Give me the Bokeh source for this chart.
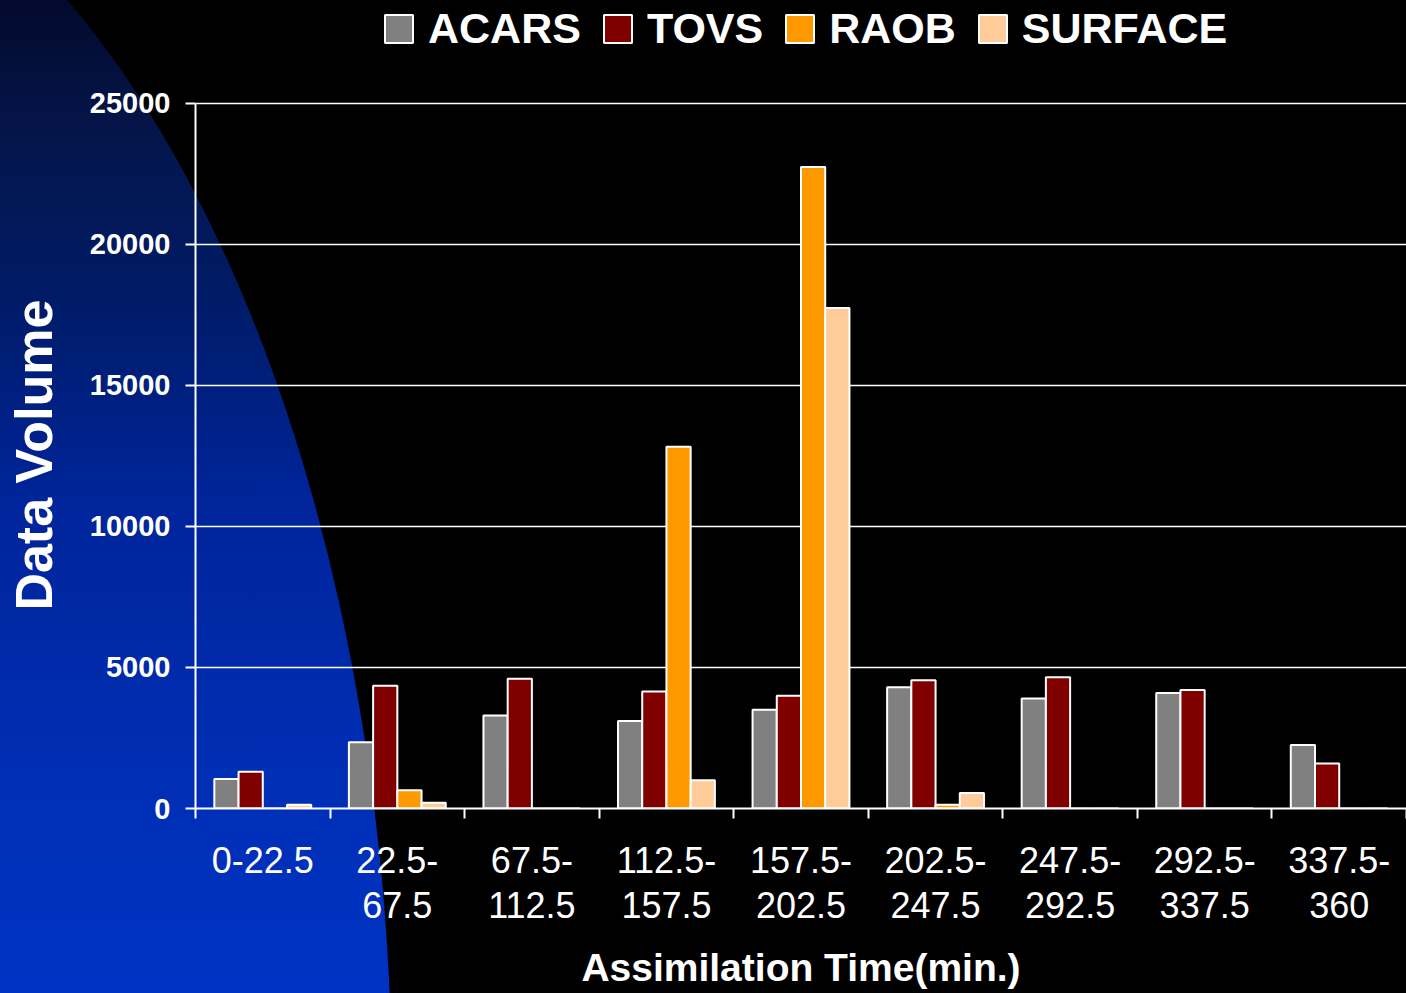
from urllib.parse import quote

from bokeh.plotting import figure
from bokeh.models import (ColumnDataSource, Range1d, FixedTicker, Legend, LegendItem,
                          GlobalInlineStyleSheet)
from bokeh.transform import dodge
from bokeh.embed import file_html
from bokeh.resources import INLINE

# ---------------- data ----------------
categories = ["0-22.5", "22.5-67.5", "67.5-112.5", "112.5-157.5", "157.5-202.5",
              "202.5-247.5", "247.5-292.5", "292.5-337.5", "337.5-360"]
tick_labels = ["0-22.5", "22.5-\n67.5", "67.5-\n112.5", "112.5-\n157.5", "157.5-\n202.5",
               "202.5-\n247.5", "247.5-\n292.5", "292.5-\n337.5", "337.5-\n360"]
series_names = ["ACARS", "TOVS", "RAOB", "SURFACE"]
acars = [1050, 2350, 3300, 3100, 3500, 4300, 3900, 4100, 2250]
tovs = [1300, 4350, 4600, 4150, 4000, 4550, 4650, 4200, 1600]
raob = [0, 650, 0, 12830, 22750, 130, 0, 0, 0]
surface = [130, 200, 0, 1000, 17750, 550, 0, 0, 0]
y_ticks = [0, 5000, 10000, 15000, 20000, 25000]

colors = ["#808080", "#800000", "#FF9900", "#FFCC99"]
offsets = [-0.27, -0.09, 0.09, 0.27]
FONT = "Liberation Sans"

# ---------------- background (slide decoration) ----------------
stops = [(0.0, "#020a2c"), (0.13, "#05154a"), (0.3, "#001b66"), (0.5, "#00249a"),
         (0.8, "#002fb6"), (1.0, "#0033c4")]
stop_svg = "".join(f'<stop offset="{o}" stop-color="{c}"/>' for o, c in stops)
svg = ('<svg xmlns="http://www.w3.org/2000/svg" width="1406" height="993">'
       '<defs><linearGradient id="g" gradientUnits="userSpaceOnUse" x1="0" y1="0" x2="0" y2="993">'
       f'{stop_svg}</linearGradient></defs>'
       '<ellipse cx="-303" cy="1100" rx="695" ry="1300" fill="url(#g)"/></svg>')
css = ('html{background:#000 url("data:image/svg+xml,' + quote(svg) + '") no-repeat 0 0;'
       'background-size:1406px 993px;min-height:100%;}'
       'html,body{margin:0;padding:0;overflow:hidden;}'
       'body{background:transparent;}')

# ---------------- figure ----------------
source = ColumnDataSource(dict(xc=list(range(len(categories))), cat=categories,
                               ACARS=acars, TOVS=tovs, RAOB=raob, SURFACE=surface))

p = figure(frame_width=1211, frame_height=808, output_backend="svg", toolbar_location=None,
           x_range=Range1d(-0.5, len(categories) - 0.5), y_range=Range1d(0, 28652),
           min_border_left=195, min_border_right=0, min_border_top=0, min_border_bottom=185,
           background_fill_color=None, border_fill_color=None, outline_line_color=None)
p.stylesheets = [GlobalInlineStyleSheet(css=css)]

renderers = []
for name, col, off in zip(series_names, colors, offsets):
    r = p.vbar(x=dodge("xc", off, range=p.x_range), top=name, width=0.18, source=source,
               fill_color=col, line_color="white", line_width=2)
    renderers.append(r)

# x axis
xa = p.xaxis[0]
xa.ticker = FixedTicker(ticks=list(range(len(categories))),
                        minor_ticks=[i - 0.5 for i in range(len(categories) + 1)])
xa.major_label_overrides = {i: t for i, t in enumerate(tick_labels)}
xa.axis_line_color = "white"
xa.axis_line_width = 2
xa.major_tick_line_color = None
xa.major_tick_out = 0
xa.major_tick_in = 0
xa.minor_tick_line_color = "white"
xa.minor_tick_line_width = 2
xa.minor_tick_out = 10
xa.minor_tick_in = 0
xa.major_label_text_font = FONT
xa.major_label_text_font_size = "36px"
xa.major_label_text_color = "white"
xa.major_label_text_line_height = 1.1
xa.major_label_standoff = 21
xa.axis_label = "Assimilation Time(min.)"
xa.axis_label_text_font = FONT
xa.axis_label_text_font_style = "bold"
xa.axis_label_text_font_size = "39px"
xa.axis_label_text_color = "white"
xa.axis_label_standoff = 17

# y axis
ya = p.yaxis[0]
ya.ticker = FixedTicker(ticks=y_ticks, minor_ticks=[])
ya.bounds = (0, 25000)
ya.axis_line_color = "white"
ya.axis_line_width = 2
ya.major_tick_line_color = "white"
ya.major_tick_line_width = 2
ya.major_tick_out = 10
ya.major_tick_in = 0
ya.minor_tick_line_color = None
ya.major_label_text_font = FONT
ya.major_label_text_font_style = "bold"
ya.major_label_text_font_size = "29px"
ya.major_label_text_color = "white"
ya.major_label_standoff = 15
ya.axis_label = "Data Volume" + "\u00a0" * 7
ya.axis_label_text_font = FONT
ya.axis_label_text_font_style = "bold"
ya.axis_label_text_font_size = "52px"
ya.axis_label_text_color = "white"
ya.axis_label_standoff = 24

p.xgrid.visible = False
p.ygrid.grid_line_color = "white"
p.ygrid.grid_line_width = 1.5

legend = Legend(items=[LegendItem(label=n, renderers=[r]) for n, r in zip(series_names, renderers)],
                orientation="horizontal", location=(186, 755),
                label_text_font=FONT, label_text_font_style="bold", label_text_font_size="43px",
                label_text_color="white", glyph_width=35, glyph_height=35, label_standoff=12,
                spacing=19, padding=0, margin=0, background_fill_alpha=0, border_line_alpha=0)
p.add_layout(legend, "center")

open("out.html", "w").write(file_html(p, INLINE))
